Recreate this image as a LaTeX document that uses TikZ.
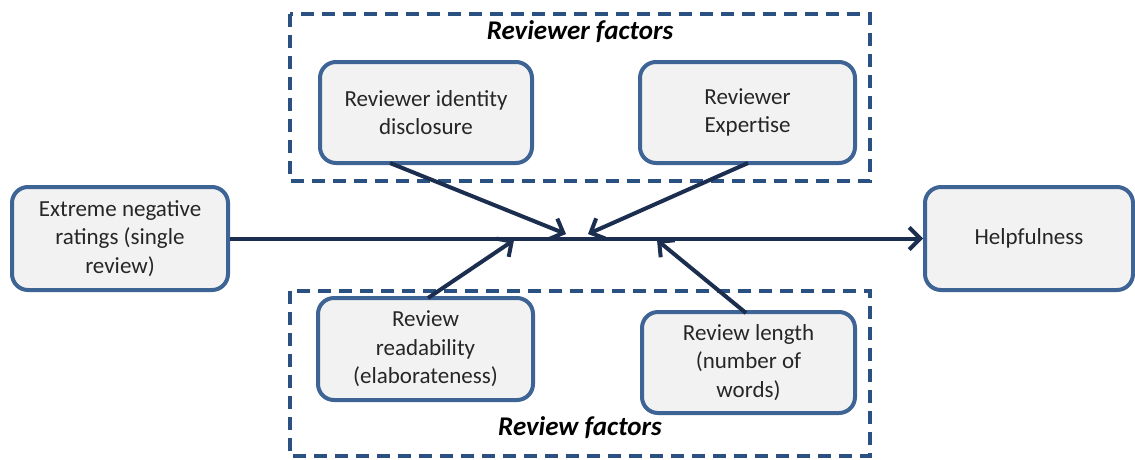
\documentclass[tikz,border=0pt]{standalone}
\usepackage{fontspec}
\setmainfont{Carlito}
\usetikzlibrary{arrows.meta}
\definecolor{boxborder}{HTML}{3E6496}
\definecolor{boxfill}{HTML}{F2F2F2}
\definecolor{arrowcol}{HTML}{1C2E4F}
\definecolor{dashcol}{HTML}{2B5183}
\tikzset{
  factorbox/.style={draw=boxborder, fill=boxfill, line width=4pt, rounded corners=16pt, align=center, font=\fontsize{23}{28.5}\selectfont, text=black!85, inner sep=0pt},
  groupbox/.style={draw=dashcol, line width=4pt, dash pattern=on 13pt off 8pt},
  conn/.style={draw=arrowcol, line width=4pt, -{Straight Barb[length=11pt,width=22pt,line width=4pt]}},
  grouplabel/.style={font=\fontsize{27}{32}\selectfont\bfseries\itshape}
}
\begin{document}
\begin{tikzpicture}[x=1pt,y=-1pt]
\useasboundingbox (0,0) rectangle (1135,459);
% group boxes
\draw[groupbox] (290,14) rectangle (870,181);
\draw[groupbox] (290,291) rectangle (870,456);
\node[grouplabel] (tl) at (580,32) {Reviewer factors};
\node[grouplabel] (bl) at (580,428) {Review factors};
% boxes
\node[factorbox, minimum width=212pt, minimum height=101pt] (rid) at (426,112.5) {Reviewer identity\\disclosure};
\node[factorbox, minimum width=215pt, minimum height=101pt] (rex) at (747.5,112.5) {Reviewer\\Expertise};
\node[factorbox, minimum width=216pt, minimum height=103pt] (ext) at (120,238.5) {Extreme negative\\ratings (single\\review)};
\node[factorbox, minimum width=208pt, minimum height=103pt] (help) at (1029,238.5) {Helpfulness};
\node[factorbox, minimum width=215pt, minimum height=102pt] (rread) at (425.5,349) {Review\\readability\\(elaborateness)};
\node[factorbox, minimum width=213pt, minimum height=101pt] (rlen) at (748.5,362.5) {Review length\\(number of\\words)};
% connectors
\coordinate (t1) at (566,234);
\coordinate (t2) at (588,234);
\coordinate (t3) at (514,240);
\coordinate (t4) at (657,240);
\draw[conn] (ext.east) -- (help.west);
\draw[conn] (390,163) -- (t1);
\draw[conn] (748,163) -- (t2);
\draw[conn] (428,298) -- (t3);
\draw[conn] (746,313) -- (t4);
\end{tikzpicture}
\end{document}
